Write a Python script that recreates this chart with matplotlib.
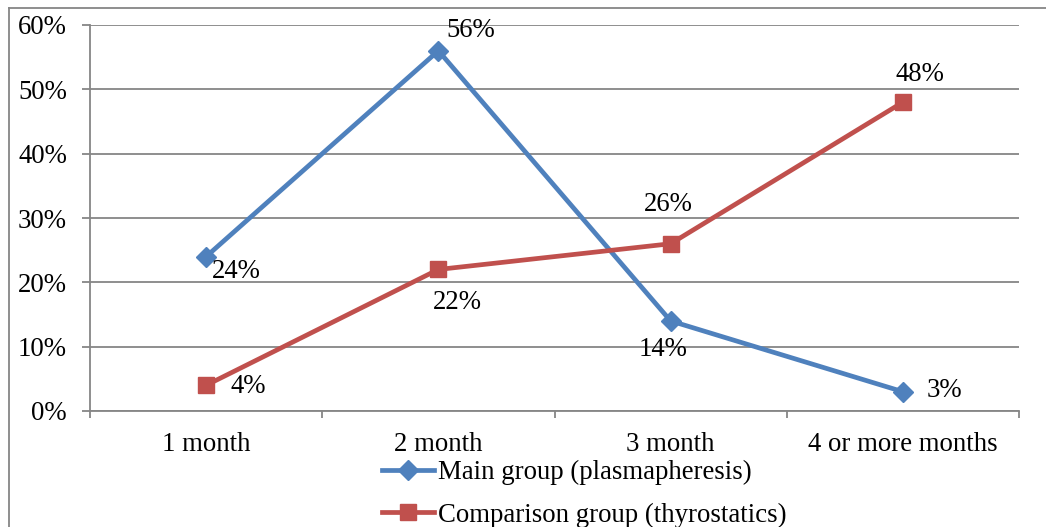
import matplotlib

matplotlib.use("Agg")
import matplotlib.pyplot as plt
from matplotlib.lines import Line2D
import numpy as np

# chart data
categories = ["1 month", "2 month", "3 month", "4 or more months"]
main_group = [24, 56, 14, 3]
comparison_group = [4, 22, 26, 48]
series_names = ["Main group (plasmapheresis)", "Comparison group (thyrostatics)"]
y_ticks = [0, 10, 20, 30, 40, 50, 60]

BLUE = "#4F81BD"
RED = "#C0504D"
GRID = "#868686"
FS = 19.3

plt.rcParams["font.family"] = ["Liberation Serif", "DejaVu Serif"]

fig = plt.figure(figsize=(10.46, 5.27), dpi=100)
ax = fig.add_axes([90 / 1046, 1 - 411 / 527, (1019 - 90) / 1046, (411 - 25) / 527])

x = np.arange(len(categories))
ax.plot(x, main_group, color=BLUE, lw=3.4, marker="D", ms=10,
        label=series_names[0], zorder=3)
ax.plot(x, comparison_group, color=RED, lw=3.4, marker="s", ms=12,
        label=series_names[1], zorder=3)

# data labels, offsets in pixels
main_offsets = [(30, -15), (32, 20), (-8, -29), (42, 1)]
comp_offsets = [(42, -1), (19, -33), (-2, 39), (17, 28)]
for xi, v, off in zip(x, main_group, main_offsets):
    ax.annotate(f"{v}%", (xi, v), xytext=(off[0] * 0.72, off[1] * 0.72),
                textcoords="offset points", ha="center", va="center", fontsize=FS)
for xi, v, off in zip(x, comparison_group, comp_offsets):
    ax.annotate(f"{v}%", (xi, v), xytext=(off[0] * 0.72, off[1] * 0.72),
                textcoords="offset points", ha="center", va="center", fontsize=FS)

ax.set_xlim(-0.5, len(categories) - 0.5)
ax.set_ylim(0, 60)
ax.set_yticks(y_ticks)
ax.set_yticklabels([f"{t}%" for t in y_ticks], fontsize=FS)
ax.set_xticks(x)
ax.set_xticklabels(categories, fontsize=FS)
ax.set_xticks(np.arange(-0.5, len(categories)), minor=True)
ax.yaxis.grid(True, color=GRID, lw=1.3)
ax.set_axisbelow(True)

for side in ("top", "right"):
    ax.spines[side].set_visible(False)
for side in ("left", "bottom"):
    ax.spines[side].set_color(GRID)
    ax.spines[side].set_linewidth(1.3)
ax.tick_params(axis="x", which="major", length=0, pad=15)
ax.tick_params(axis="x", which="minor", length=5, width=1.3, color=GRID)
ax.tick_params(axis="y", length=5.5, width=1.3, color=GRID, pad=11)

fig.legend(loc="upper left", bbox_to_anchor=(382 / 1046, 1 - 460 / 527),
           frameon=False, fontsize=FS, borderpad=0, borderaxespad=0,
           handlelength=1.95, handletextpad=0.15, labelspacing=0.65)

# outer frame of the source chart, cut at the image edge
fig.add_artist(Line2D([9 / 1046, 1], [1 - 8 / 527, 1 - 8 / 527],
                      transform=fig.transFigure, color=GRID, lw=1.3))
fig.add_artist(Line2D([9 / 1046, 9 / 1046], [0, 1 - 8 / 527],
                      transform=fig.transFigure, color=GRID, lw=1.3))

fig.savefig("out.png", dpi=100)
